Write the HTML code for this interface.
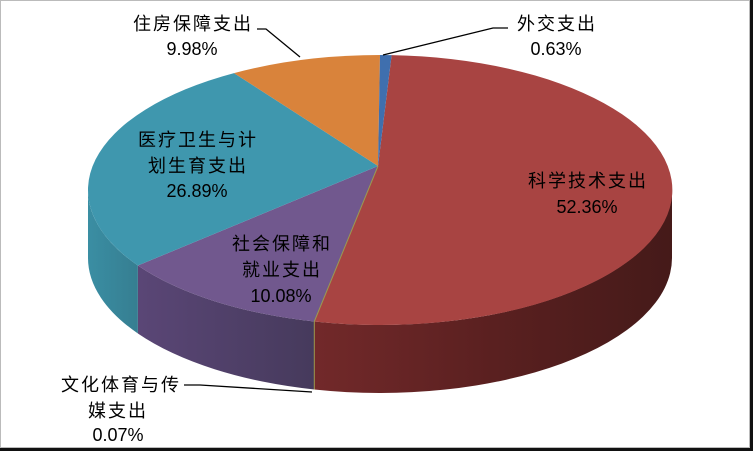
<!DOCTYPE html>
<html><head><meta charset="utf-8"><style>
html,body{margin:0;padding:0;background:#fff}
svg{display:block}
text{font-family:"Liberation Sans","Noto Sans CJK SC",sans-serif;font-size:18px;fill:#000}
.c{letter-spacing:2px}
</style></head><body>
<svg width="753" height="451" viewBox="0 0 753 451" xmlns="http://www.w3.org/2000/svg">
<defs>
<linearGradient id="rs" x1="0" x2="1" y1="0" y2="0">
<stop offset="0" stop-color="#72292a"/><stop offset="0.5" stop-color="#5a2020"/><stop offset="1" stop-color="#451a19"/></linearGradient>
<linearGradient id="ps" x1="0" x2="1" y1="0" y2="0">
<stop offset="0" stop-color="#5a4676"/><stop offset="1" stop-color="#463a5c"/></linearGradient>
<linearGradient id="bs" x1="0" x2="1" y1="0" y2="0">
<stop offset="0" stop-color="#3a8ea3"/><stop offset="1" stop-color="#367e91"/></linearGradient>
</defs>
<rect x="0" y="0" width="753" height="451" fill="#fff"/>
<rect x="0.5" y="0.5" width="749" height="447" fill="none" stroke="#bbb"/>
<rect x="750" y="0" width="3" height="451" fill="#111"/>
<rect x="0" y="448" width="753" height="3" fill="#111"/>
<path d="M672,190 A292,135 0 0,1 314.3,321.5 L314.3,389.5 A292,135 0 0,0 672,258 Z" fill="url(#rs)"/>
<path d="M314.3,321.5 A292,135 0 0,1 137.9,265.5 L137.9,333.5 A292,135 0 0,0 314.3,389.5 Z" fill="url(#ps)"/>
<path d="M137.9,265.5 A292,135 0 0,1 88,190 L88,258 A292,135 0 0,0 137.9,333.5 Z" fill="url(#bs)"/>
<line x1="314.3" y1="321.5" x2="314.3" y2="389.5" stroke="#9a9a50" stroke-width="1"/>
<path d="M378,166 L391.6,55.1 A292,135 0 1,1 314.3,321.5 Z" fill="#a84442"/>
<path d="M378,166 L314.3,321.5 A292,135 0 0,1 137.9,265.5 Z" fill="#71588e"/>
<path d="M378,166 L137.9,265.5 A292,135 0 0,1 234,73.1 Z" fill="#3f97ae"/>
<path d="M378,166 L234,73.1 A292,135 0 0,1 380,55 Z" fill="#d9833b"/>
<path d="M378,166 L380,55 A292,135 0 0,1 391.6,55.1 Z" fill="#3f6fae"/>
<line x1="378" y1="166" x2="314.3" y2="321.5" stroke="#9a9a50" stroke-width="1"/>
<polyline points="257,29 266,29 300,57" fill="none" stroke="#000" stroke-width="1.3"/>
<polyline points="383,55 493,28 508,28" fill="none" stroke="#000" stroke-width="1.3"/>
<polyline points="184,385 200,385 312,392" fill="none" stroke="#000" stroke-width="1.3"/>
<text class="c" x="193" y="30" text-anchor="middle">住房保障支出</text>
<text x="192" y="55" text-anchor="middle">9.98%</text>
<text class="c" x="557" y="30" text-anchor="middle">外交支出</text>
<text x="556" y="55" text-anchor="middle">0.63%</text>
<text class="c" x="198" y="146" text-anchor="middle">医疗卫生与计</text>
<text class="c" x="198" y="172" text-anchor="middle">划生育支出</text>
<text x="197" y="197" text-anchor="middle">26.89%</text>
<text class="c" x="588" y="187" text-anchor="middle">科学技术支出</text>
<text x="587" y="213" text-anchor="middle">52.36%</text>
<text class="c" x="282" y="250" text-anchor="middle">社会保障和</text>
<text class="c" x="282" y="276" text-anchor="middle">就业支出</text>
<text x="281" y="302" text-anchor="middle">10.08%</text>
<text class="c" x="121" y="391" text-anchor="middle">文化体育与传</text>
<text class="c" x="118" y="417" text-anchor="middle">媒支出</text>
<text x="118" y="441" text-anchor="middle">0.07%</text>
</svg>
</body></html>
